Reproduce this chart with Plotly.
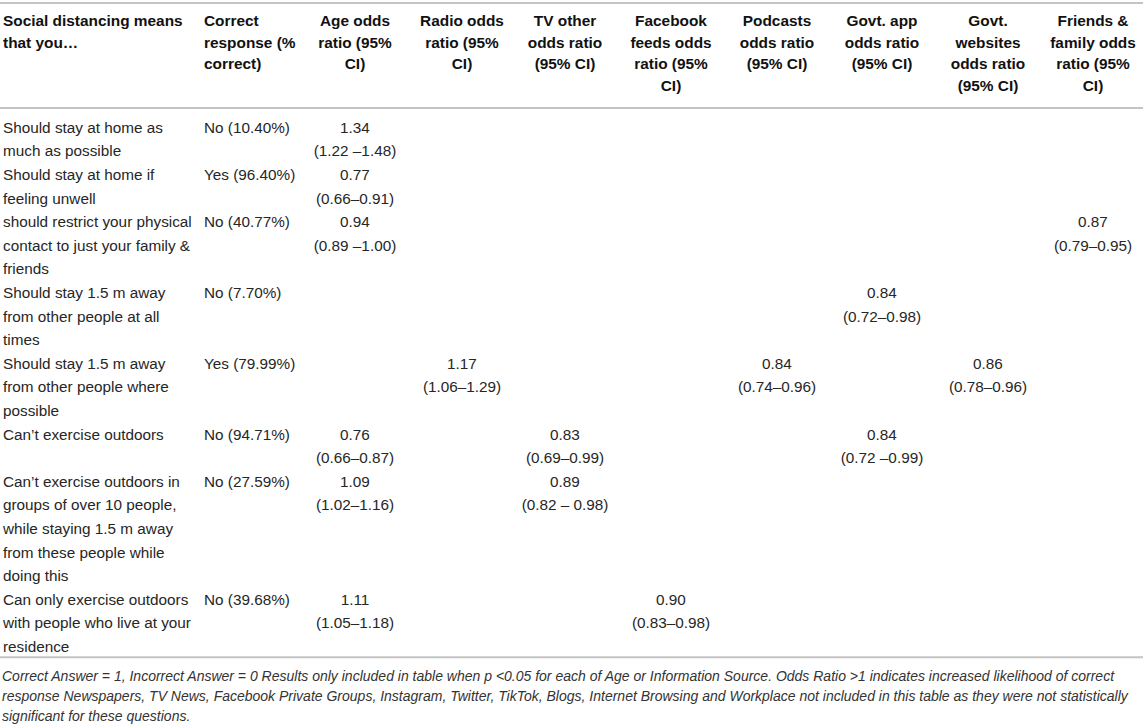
"""Social distancing table: odds ratios of a correct response by age and information source."""
import plotly.graph_objects as go

WIDTH, HEIGHT = 1143, 724
FONT = "Liberation Sans, Arial, Helvetica, sans-serif"
TEXT_COLOR = "#262626"
RULE_COLOR = "#c4c4c4"

# ---- data -----------------------------------------------------------------
headers = [
    "Social distancing means<br>that you…",
    "Correct<br>response (%<br>correct)",
    "Age odds<br>ratio (95%<br>CI)",
    "Radio odds<br>ratio (95%<br>CI)",
    "TV other<br>odds ratio<br>(95% CI)",
    "Facebook<br>feeds odds<br>ratio (95%<br>CI)",
    "Podcasts<br>odds ratio<br>(95% CI)",
    "Govt. app<br>odds ratio<br>(95% CI)",
    "Govt.<br>websites<br>odds ratio<br>(95% CI)",
    "Friends &<br>family odds<br>ratio (95%<br>CI)",
]

statements = [
    "Should stay at home as<br>much as possible",
    "Should stay at home if<br>feeling unwell",
    "should restrict your physical<br>contact to just your family &<br>friends",
    "Should stay 1.5 m away<br>from other people at all<br>times",
    "Should stay 1.5 m away<br>from other people where<br>possible",
    "Can’t exercise outdoors",
    "Can’t exercise outdoors in<br>groups of over 10 people,<br>while staying 1.5 m away<br>"
    "from these people while<br>doing this",
    "Can only exercise outdoors<br>with people who live at your<br>residence",
]

correct_response = [
    "No (10.40%)", "Yes (96.40%)", "No (40.77%)", "No (7.70%)",
    "Yes (79.99%)", "No (94.71%)", "No (27.59%)", "No (39.68%)",
]

age_or = [1.34, 0.77, 0.94, None, None, 0.76, 1.09, 1.11]
age_ci = ["1.22 –1.48", "0.66–0.91", "0.89 –1.00", None, None, "0.66–0.87", "1.02–1.16", "1.05–1.18"]

radio_or = [None, None, None, None, 1.17, None, None, None]
radio_ci = [None, None, None, None, "1.06–1.29", None, None, None]

tv_other_or = [None, None, None, None, None, 0.83, 0.89, None]
tv_other_ci = [None, None, None, None, None, "0.69–0.99", "0.82 – 0.98", None]

facebook_or = [None, None, None, None, None, None, None, 0.90]
facebook_ci = [None, None, None, None, None, None, None, "0.83–0.98"]

podcasts_or = [None, None, None, None, 0.84, None, None, None]
podcasts_ci = [None, None, None, None, "0.74–0.96", None, None, None]

govt_app_or = [None, None, None, 0.84, None, 0.84, None, None]
govt_app_ci = [None, None, None, "0.72–0.98", None, "0.72 –0.99", None, None]

govt_web_or = [None, None, None, None, 0.86, None, None, None]
govt_web_ci = [None, None, None, None, "0.78–0.96", None, None, None]

friends_or = [None, None, 0.87, None, None, None, None, None]
friends_ci = [None, None, "0.79–0.95", None, None, None, None, None]

footnote_lines = [
    "Correct Answer = 1, Incorrect Answer = 0 Results only included in table when p <0.05 for each of "
    "Age or Information Source. Odds Ratio >1 indicates increased likelihood of correct",
    "response Newspapers, TV News, Facebook Private Groups, Instagram, Twitter, TikTok, Blogs, Internet "
    "Browsing and Workplace not included in this table as they were not statistically",
    "significant for these questions.",
]

# ---- layout (pixel units on hidden axes) ----------------------------------
# column anchors: left edge for the two text columns, centre for odds ratios
col_anchor = [3, 204, 355, 462, 565, 671, 777, 882, 988, 1093]
col_position = ["middle right", "middle right"] + ["middle center"] * 8

HEADER_TOP, HEADER_PITCH = 22, 21.7
BODY_TOP, BODY_PITCH = 129, 23.6
TOP_RULE = 3
FOOT_TOP, FOOT_PITCH = 676, 20


def odds_cells(odds, cis):
    """Formats odds ratio and CI as two-line cells, empty where not significant"""
    return [f"{o:.2f}<br>({ci})" if o is not None else "" for o, ci in zip(odds, cis)]


def split_lines(text):
    """Splits a cell into its lines"""
    return text.split("<br>") if text else []


columns = [
    statements,
    correct_response,
    odds_cells(age_or, age_ci),
    odds_cells(radio_or, radio_ci),
    odds_cells(tv_other_or, tv_other_ci),
    odds_cells(facebook_or, facebook_ci),
    odds_cells(podcasts_or, podcasts_ci),
    odds_cells(govt_app_or, govt_app_ci),
    odds_cells(govt_web_or, govt_web_ci),
    odds_cells(friends_or, friends_ci),
]

# each row is as tall as its tallest cell
row_lines = [max(len(split_lines(col[r])) for col in columns) for r in range(len(statements))]
row_start = [sum(row_lines[:r]) for r in range(len(row_lines))]
total_lines = sum(row_lines)

header_lines = max(len(split_lines(h)) for h in headers)
header_rule = HEADER_TOP + (header_lines - 1) * HEADER_PITCH + 21
bottom_rule = BODY_TOP + (total_lines - 1) * BODY_PITCH + 9

fig = go.Figure()

# header
for c, header in enumerate(headers):
    lines = split_lines(header)
    fig.add_trace(go.Scatter(
        x=[col_anchor[c]] * len(lines),
        y=[HEADER_TOP + i * HEADER_PITCH for i in range(len(lines))],
        text=lines,
        mode="text",
        textposition=col_position[c],
        textfont=dict(family=FONT, size=15.4, color="#111111", weight="bold"),
        hoverinfo="skip",
    ))

# body cells, top aligned within their row
for c, col in enumerate(columns):
    xs, ys, texts = [], [], []
    for r, cell in enumerate(col):
        for i, line in enumerate(split_lines(cell)):
            xs.append(col_anchor[c])
            ys.append(BODY_TOP + (row_start[r] + i) * BODY_PITCH)
            texts.append(line)
    fig.add_trace(go.Scatter(
        x=xs, y=ys, text=texts,
        mode="text",
        textposition=col_position[c],
        textfont=dict(family=FONT, size=15.3, color=TEXT_COLOR),
        hoverinfo="skip",
    ))

for y_rule in (TOP_RULE, header_rule, bottom_rule):
    fig.add_shape(type="line", xref="x", yref="y", x0=0, x1=WIDTH, y0=y_rule, y1=y_rule,
                  line=dict(color=RULE_COLOR, width=2))

for i, line in enumerate(footnote_lines):
    fig.add_annotation(
        x=0, y=FOOT_TOP + i * FOOT_PITCH, xref="x", yref="y",
        text=line, showarrow=False, xanchor="left", yanchor="middle",
        font=dict(family=FONT, size=14, color="#333333", style="italic"),
    )

fig.update_layout(
    width=WIDTH, height=HEIGHT,
    margin=dict(l=0, r=0, t=0, b=0),
    paper_bgcolor="white", plot_bgcolor="white",
    showlegend=False,
    xaxis=dict(range=[0, WIDTH], visible=False, fixedrange=True),
    yaxis=dict(range=[HEIGHT, 0], visible=False, fixedrange=True),
)

# the page's default body margin would shift the table and crop its right edge
fig.write_html(
    "out.html",
    config={"displayModeBar": False},
    post_script="document.body.style.margin = '0';",
)
